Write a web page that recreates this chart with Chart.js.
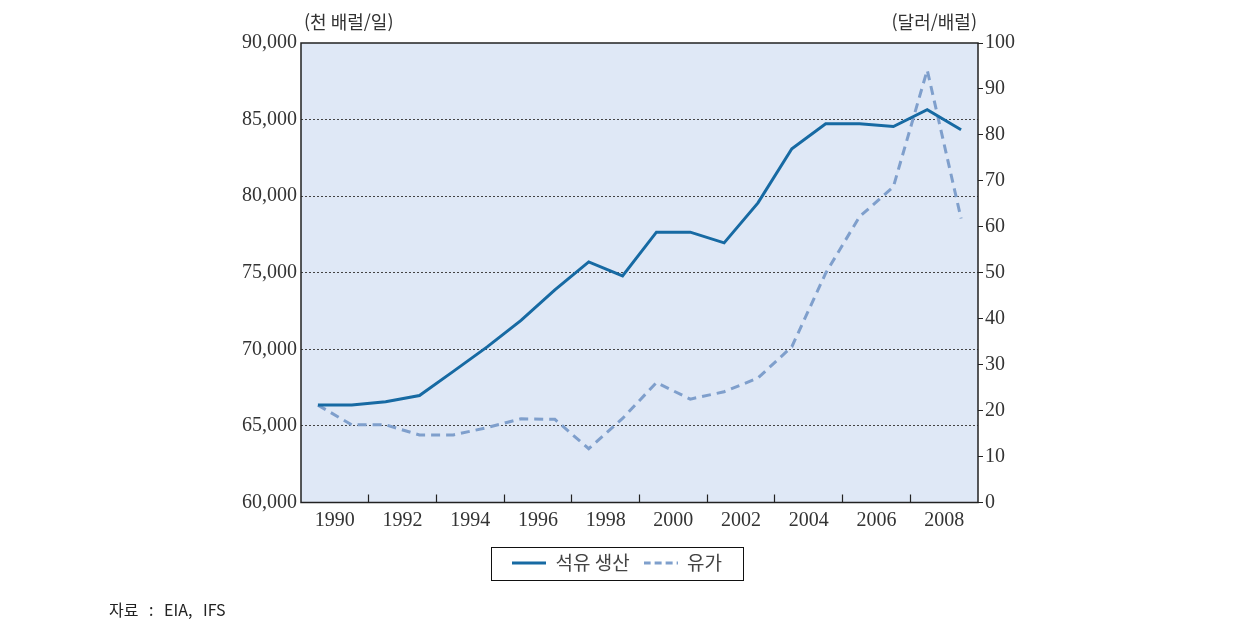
<!DOCTYPE html>
<html lang="ko">
<head>
<meta charset="utf-8">
<title>석유 생산과 유가</title>
<script src="https://cdn.jsdelivr.net/npm/chart.js@4.4.1/dist/chart.umd.min.js"></script>
<style>
    html, body { margin: 0; padding: 0; background: #ffffff; }
    #wrap { position: relative; width: 1234px; height: 641px; }
</style>
</head>
<body>
<div id="wrap"><canvas id="oilChart"></canvas></div>
<script>
// 세계 석유 생산(천 배럴/일)과 유가(달러/배럴), 1990-2009
const years = [1990, 1991, 1992, 1993, 1994, 1995, 1996, 1997, 1998, 1999,
               2000, 2001, 2002, 2003, 2004, 2005, 2006, 2007, 2008, 2009];
const oilProduction = [66370, 66370, 66580, 66980, 68560, 70160, 71890, 73880, 75710, 74800,
                       77650, 77650, 76950, 79560, 83100, 84730, 84730, 84550, 85650, 84340];
const oilPrice = [21.2, 16.9, 16.9, 14.7, 14.7, 16.3, 18.2, 18.1, 11.7, 18.3,
                  26.1, 22.5, 24.1, 27.1, 33.9, 49.9, 62.2, 68.7, 94.1, 61.8];
const yearLabels = ['1990', '1992', '1994', '1996', '1998', '2000', '2002', '2004', '2006', '2008'];
const seriesNames = ['석유 생산', '유가'];
const leftUnit = '(천 배럴/일)';
const rightUnit = '(달러/배럴)';
const sourceNote = '자료 : EIA, IFS';

const serifFont = '"Liberation Serif", "DejaVu Serif", serif';
const koreanFont = '"Noto Sans CJK KR", "Noto Sans", sans-serif';

const colors = {
    production: '#176aa3',
    price: '#7f9fcc',
    plotBg: '#dfe8f6',
    frame: '#222222',
    grid: '#444444',
    text: '#333333'
};
const lineWidth = 3;
const priceDash = [9, 6];

// small line samples used as legend symbols (solid / dashed)
function lineSample(color, dash) {
    const c = document.createElement('canvas');
    c.width = 34;
    c.height = 4;
    const g = c.getContext('2d');
    g.strokeStyle = color;
    g.lineWidth = lineWidth;
    g.setLineDash(dash);
    g.beginPath();
    g.moveTo(0, 2);
    g.lineTo(34, 2);
    g.stroke();
    return c;
}
const legendSamples = [lineSample(colors.production, []), lineSample(colors.price, [7, 4])];

// plot background, frame, unit captions, legend box and source note
const decorPlugin = {
    id: 'decor',
    beforeDraw(chart) {
        const { ctx, chartArea: a } = chart;
        ctx.save();
        ctx.fillStyle = colors.plotBg;
        ctx.fillRect(a.left, a.top, a.right - a.left, a.bottom - a.top);
        ctx.restore();
    },
    beforeDatasetsDraw(chart) {
        const { ctx, chartArea: a } = chart;
        ctx.save();
        ctx.strokeStyle = colors.frame;
        ctx.lineWidth = 1.5;
        ctx.strokeRect(a.left, a.top, a.right - a.left, a.bottom - a.top);
        ctx.restore();
    },
    afterDraw(chart) {
        const { ctx, chartArea: a } = chart;
        ctx.save();
        ctx.fillStyle = colors.text;
        ctx.font = '18px ' + koreanFont;
        ctx.textBaseline = 'middle';
        ctx.textAlign = 'left';
        ctx.fillText(leftUnit, a.left + 3, a.top - 21);
        ctx.textAlign = 'right';
        ctx.fillText(rightUnit, a.right - 1, a.top - 21);

        // box round the legend items
        const boxes = chart.legend && chart.legend.legendHitBoxes;
        if (boxes && boxes.length) {
            const left = Math.min(...boxes.map(b => b.left)) - 21;
            const right = Math.max(...boxes.map(b => b.left + b.width)) + 21;
            const mid = boxes[0].top + boxes[0].height / 2;
            ctx.strokeStyle = '#111111';
            ctx.lineWidth = 1;
            ctx.strokeRect(Math.round(left) + 0.5, Math.round(mid - 16.5) + 0.5,
                           Math.round(right - left), 33);
        }

        ctx.fillStyle = '#222222';
        ctx.font = '16px ' + koreanFont;
        ctx.textAlign = 'left';
        if ('wordSpacing' in ctx) ctx.wordSpacing = '7px';
        ctx.fillText(sourceNote, 109, 610);
        ctx.restore();
    }
};

const ctx = document.getElementById('oilChart').getContext('2d');
const chart = new Chart(ctx, {
    type: 'line',
    data: {
        datasets: [{
            label: seriesNames[0],
            data: years.map((y, i) => ({ x: y, y: oilProduction[i] })),
            yAxisID: 'yLeft',
            borderColor: colors.production,
            backgroundColor: colors.production,
            borderWidth: lineWidth,
            pointRadius: 0,
            tension: 0
        }, {
            label: seriesNames[1],
            data: years.map((y, i) => ({ x: y, y: oilPrice[i] })),
            yAxisID: 'yRight',
            borderColor: colors.price,
            backgroundColor: colors.price,
            borderWidth: lineWidth,
            borderDash: priceDash,
            pointRadius: 0,
            tension: 0
        }]
    },
    options: {
        responsive: true,
        maintainAspectRatio: false,
        animation: false,
        devicePixelRatio: 1,
        layout: {
            padding: { left: 0, right: 0, top: 43, bottom: 58.5 }
        },
        scales: {
            x: {
                type: 'linear',
                min: years[0] - 0.5,
                max: years[years.length - 1] + 0.5,
                afterBuildTicks: (scale) => {
                    scale.ticks = years.slice(0, -1).map(y => ({ value: y + 0.5 }));
                },
                afterFit: (scale) => { scale.height = 37; },
                grid: {
                    drawOnChartArea: false,
                    drawTicks: true,
                    tickLength: -8,
                    tickWidth: 1.2,
                    tickColor: (c) => (c.tick && Math.floor(c.tick.value) % 2 === 1) ? colors.frame : 'rgba(0,0,0,0)'
                },
                border: { display: false },
                ticks: {
                    autoSkip: false,
                    maxRotation: 0,
                    padding: 14,
                    color: colors.text,
                    font: { family: serifFont, size: 20 },
                    callback: (value) => {
                        const label = String(Math.floor(value));
                        return yearLabels.includes(label) ? label : '';
                    }
                }
            },
            yLeft: {
                type: 'linear',
                position: 'left',
                min: 60000,
                max: 90000,
                afterFit: (scale) => { scale.width = 301; },
                grid: {
                    drawTicks: false,
                    lineWidth: 1,
                    color: (c) => (c.tick && (c.tick.value === 60000 || c.tick.value === 90000)) ? 'rgba(0,0,0,0)' : colors.grid
                },
                border: { display: false, dash: [2, 2] },
                ticks: {
                    stepSize: 5000,
                    padding: 4,
                    color: colors.text,
                    font: { family: serifFont, size: 20 },
                    callback: (value) => value.toLocaleString('en-US')
                }
            },
            yRight: {
                type: 'linear',
                position: 'right',
                min: 0,
                max: 100,
                afterFit: (scale) => { scale.width = 256; },
                grid: {
                    drawOnChartArea: false,
                    drawTicks: true,
                    tickLength: 5,
                    tickColor: colors.frame
                },
                border: { display: false },
                ticks: {
                    stepSize: 10,
                    padding: 2,
                    color: colors.text,
                    font: { family: serifFont, size: 20 }
                }
            }
        },
        plugins: {
            legend: {
                position: 'bottom',
                labels: {
                    usePointStyle: true,
                    pointStyleWidth: 34,
                    padding: 14,
                    color: '#444444',
                    font: { family: koreanFont, size: 19 },
                    generateLabels: (chart) => {
                        const items = Chart.defaults.plugins.legend.labels.generateLabels(chart);
                        items.forEach((item, i) => { item.pointStyle = legendSamples[i]; });
                        return items;
                    }
                }
            },
            tooltip: { enabled: false }
        }
    },
    plugins: [decorPlugin]
});
</script>
</body>
</html>
